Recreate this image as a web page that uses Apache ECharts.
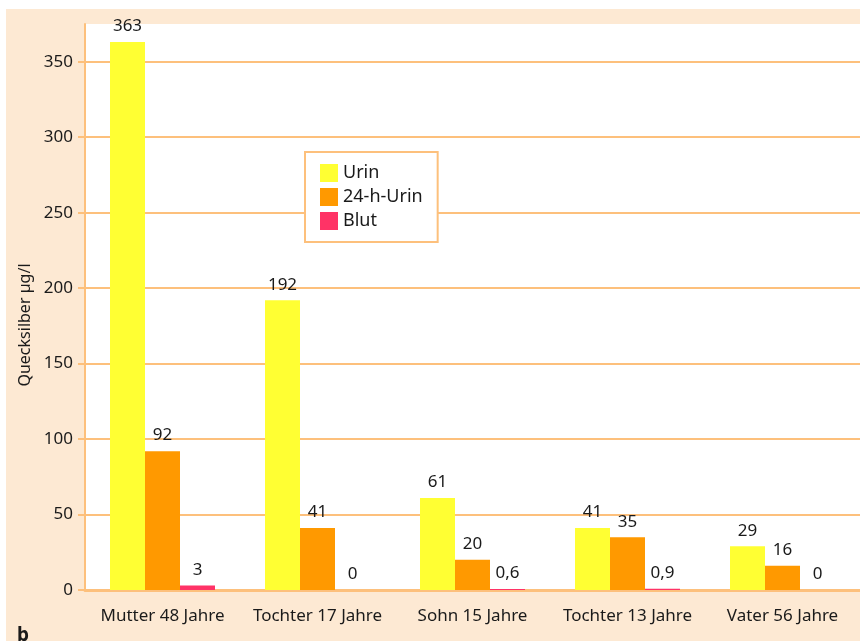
<!DOCTYPE html>
<html>
<head>
<meta charset="utf-8">
<script src="https://cdn.jsdelivr.net/npm/echarts@6/dist/echarts.min.js"></script>
<style>
  html, body { margin: 0; padding: 0; background: #fff; }
  #chart { position: absolute; left: 6px; top: 9px; width: 854px; height: 632px; }
</style>
</head>
<body>
<div id="chart"></div>
<script>
// Kategorien und Messwerte (Quecksilber µg/l)
var categories = ["Mutter 48 Jahre", "Tochter 17 Jahre", "Sohn 15 Jahre", "Tochter 13 Jahre", "Vater 56 Jahre"];
var urin = [363, 192, 61, 41, 29];
var urin24h = [92, 41, 20, 35, 16];
var blut = [3, 0, 0.6, 0.9, 0];
var yTicks = [0, 50, 100, 150, 200, 250, 300, 350];

var axisColor = "#fdc07c";
var textColor = "#1a1a1a";
var font = "'Noto Sans', sans-serif";

function fmt(p) {
  return String(p.value).replace(".", ",");
}

function barSeries(name, data, color) {
  return {
    name: name,
    type: "bar",
    data: data,
    barWidth: 35,
    barGap: "0%",
    itemStyle: { color: color },
    label: {
      show: true,
      position: "top",
      distance: 7,
      formatter: fmt,
      color: textColor,
      fontFamily: font,
      fontSize: 17
    }
  };
}

var myChart = echarts.init(document.getElementById("chart"));
myChart.setOption({
  backgroundColor: "#fde9d3",
  animation: false,
  grid: {
    left: 79,
    right: 0,
    top: 15,
    bottom: 51,
    show: true,
    backgroundColor: "#ffffff",
    borderWidth: 0
  },
  legend: {
    orient: "vertical",
    left: 299,
    top: 143,
    padding: [12, 15, 12, 15],
    backgroundColor: "#ffffff",
    borderColor: axisColor,
    borderWidth: 2,
    borderRadius: 0,
    itemWidth: 18,
    itemHeight: 18,
    itemGap: 6,
    icon: "rect",
    textStyle: { color: textColor, fontFamily: font, fontSize: 18 },
    data: ["Urin", "24-h-Urin", "Blut"]
  },
  xAxis: {
    type: "category",
    data: categories,
    axisLine: { show: true, lineStyle: { color: axisColor, width: 3 } },
    axisTick: { show: false },
    axisLabel: {
      color: textColor,
      fontFamily: font,
      fontSize: 17,
      margin: 18,
      interval: 0
    }
  },
  yAxis: {
    type: "value",
    min: 0,
    max: 375,
    interval: 50,
    axisLine: { show: true, lineStyle: { color: axisColor, width: 2 } },
    axisTick: { show: true, length: 7, lineStyle: { color: axisColor, width: 2 } },
    axisLabel: {
      color: textColor,
      fontFamily: font,
      fontSize: 17,
      margin: 12,
      showMaxLabel: false,
      formatter: function (v) { return yTicks.indexOf(v) >= 0 ? String(v) : ""; }
    },
    splitLine: { show: true, showMaxLine: false, lineStyle: { color: axisColor, width: 2 } }
  },
  graphic: [
    {
      type: "text",
      x: 19,
      y: 316,
      rotation: Math.PI / 2,
      style: {
        text: "Quecksilber µg/l",
        fill: textColor,
        font: "16px 'Noto Sans', sans-serif",
        textAlign: "center",
        textVerticalAlign: "middle"
      }
    },
    {
      type: "text",
      left: 11,
      top: 617,
      style: {
        text: "b",
        fill: textColor,
        font: "bold 19px 'Noto Sans', sans-serif"
      }
    }
  ],
  series: [
    barSeries("Urin", urin, "#ffff33"),
    barSeries("24-h-Urin", urin24h, "#ff9900"),
    barSeries("Blut", blut, "#ff3366")
  ]
});
</script>
</body>
</html>
